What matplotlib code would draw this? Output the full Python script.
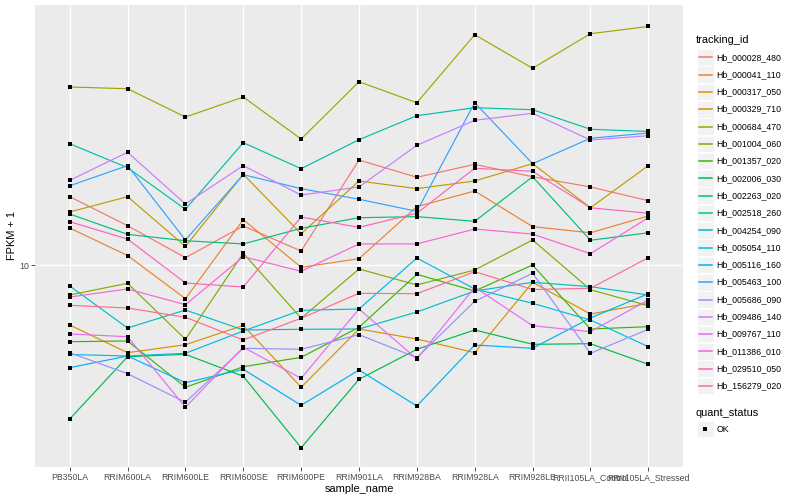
import matplotlib
matplotlib.use("Agg")
import matplotlib.pyplot as plt
from matplotlib.patches import Rectangle
from matplotlib.lines import Line2D
from matplotlib.ticker import NullLocator, FixedLocator

plt.rcParams['font.family'] = ['Liberation Sans', 'DejaVu Sans']

samples = ["PB350LA", "RRIM600LA", "RRIM600LE", "RRIM600SE", "RRIM600PE",
           "RRIM901LA", "RRIM928BA", "RRIM928LA", "RRIM928LE",
           "RRII105LA_Control", "RRII105LA_Stressed"]

tracking_ids = ["Hb_000028_480", "Hb_000041_110", "Hb_000317_050", "Hb_000329_710",
                "Hb_000684_470", "Hb_001004_060", "Hb_001357_020", "Hb_002006_030",
                "Hb_002263_020", "Hb_002518_260", "Hb_004254_090", "Hb_005054_110",
                "Hb_005116_160", "Hb_005463_100", "Hb_005686_090", "Hb_009486_140",
                "Hb_009767_110", "Hb_011386_010", "Hb_029510_050", "Hb_156279_020"]

hb_000028_480 = [14.82, 12.54, 10.43, 12.52, 10.84, 18.30, 16.57, 17.85, 16.62, 15.67, 14.48]
hb_000041_110 = [12.37, 10.56, 8.236, 12.98, 9.869, 10.37, 13.99, 15.31, 12.47, 12.04, 13.26]
hb_000317_050 = [7.080, 6.036, 6.320, 7.062, 4.946, 6.918, 6.531, 6.036, 9.052, 7.542, 8.021]
hb_000329_710 = [13.57, 14.82, 11.13, 16.86, 11.97, 16.22, 15.52, 16.22, 17.92, 13.90, 17.72]
hb_000684_470 = [27.86, 27.59, 23.44, 26.30, 20.65, 28.72, 25.45, 37.65, 31.03, 37.87, 39.47]
hb_001004_060 = [8.414, 9.000, 6.520, 10.70, 7.358, 9.772, 8.913, 9.716, 11.55, 8.675, 7.911]
hb_001357_020 = [6.431, 6.457, 4.946, 5.568, 5.878, 6.987, 9.478, 8.610, 10.00, 6.918, 7.011]
hb_002006_030 = [4.121, 5.899, 5.980, 5.269, 3.493, 5.179, 6.155, 6.879, 6.335, 6.357, 5.646]
hb_002263_020 = [13.41, 11.93, 11.50, 11.29, 12.35, 13.13, 13.21, 12.86, 16.62, 11.53, 12.04]
hb_002518_260 = [20.10, 17.51, 13.78, 20.22, 17.41, 20.57, 23.62, 24.73, 24.45, 21.84, 21.57]
hb_004254_090 = [8.862, 6.958, 7.718, 6.879, 6.907, 6.918, 7.630, 8.610, 9.052, 8.826, 8.414]
hb_005054_110 = [5.974, 5.923, 6.015, 6.839, 7.705, 7.763, 10.41, 8.710, 8.021, 7.286, 6.248]
hb_005116_160 = [5.537, 5.923, 5.079, 5.486, 4.459, 5.464, 4.441, 6.310, 6.191, 7.371, 8.477]
hb_005463_100 = [15.78, 17.72, 11.55, 16.82, 15.52, 14.60, 13.62, 25.45, 17.92, 20.74, 21.38]
hb_005686_090 = [6.036, 5.349, 4.537, 6.191, 6.155, 6.695, 5.865, 8.114, 9.534, 6.015, 6.907]
hb_009486_140 = [16.28, 19.13, 14.21, 17.72, 14.96, 15.67, 19.92, 23.00, 23.95, 20.54, 21.05]
hb_009767_110 = [6.722, 6.618, 4.408, 6.227, 5.209, 7.763, 5.821, 8.796, 7.051, 6.812, 8.175]
hb_011386_010 = [8.317, 8.710, 7.957, 10.49, 9.644, 11.29, 11.29, 12.30, 11.95, 10.67, 13.13]
hb_029510_050 = [12.83, 11.61, 9.016, 8.811, 13.18, 12.42, 13.47, 17.45, 17.15, 13.90, 13.47]
hb_156279_020 = [7.930, 7.807, 7.400, 6.494, 7.358, 8.497, 8.477, 9.622, 8.684, 8.745, 10.43]

series = [hb_000028_480, hb_000041_110, hb_000317_050, hb_000329_710, hb_000684_470,
          hb_001004_060, hb_001357_020, hb_002006_030, hb_002263_020, hb_002518_260,
          hb_004254_090, hb_005054_110, hb_005116_160, hb_005463_100, hb_005686_090,
          hb_009486_140, hb_009767_110, hb_011386_010, hb_029510_050, hb_156279_020]

colors = ["#F8766D", "#EA8331", "#D89000", "#C09B00", "#A3A500", "#7CAE00", "#39B600",
          "#00BB4E", "#00BF7D", "#00C1A3", "#00BFC4", "#00BAE0", "#00B0F6", "#35A2FF",
          "#9590FF", "#C77CFF", "#E76BF3", "#FA62DB", "#FF62BC", "#FF6C91"]

W, H = 800, 500
fig = plt.figure(figsize=(8, 5), dpi=100)
fig.patch.set_facecolor("white")

def fx(px):
    return px / W

def fy(py):
    return 1 - py / H

ax = fig.add_axes([fx(35), fy(467), (683 - 35) / W, (467 - 5) / H])
ax.set_facecolor("#EBEBEB")
ax.set_yscale("log")
ax.set_ylim(3.126, 44.67)
ax.set_xlim(-0.6, len(samples) - 0.4)

xs = list(range(len(samples)))
for vals, col in zip(series, colors):
    ax.plot(xs, vals, color=col, lw=0.85, zorder=3, solid_capstyle='butt')
for vals in series:
    ax.plot(xs, vals, ls='none', marker='s', ms=2.6, color='black', mew=0, zorder=4)

ax.xaxis.set_major_locator(FixedLocator(xs))
ax.set_xticklabels(samples)
ax.yaxis.set_major_locator(FixedLocator([10]))
ax.yaxis.set_minor_locator(NullLocator())
ax.set_yticklabels(["10"])
ax.grid(True, which='major', color='white', lw=1.0)
ax.set_axisbelow(True)
for s in ax.spines.values():
    s.set_visible(False)
ax.tick_params(axis='both', length=2.7, width=0.6, color='#333333',
               labelsize=6.3, labelcolor='#4D4D4D', pad=1.8)

ax.set_xlabel("sample_name", fontsize=7.9, color='black')
ax.xaxis.set_label_coords(0.5, (467 - 488.5) / 462)
ax.xaxis.label.set_va('center')
ax.set_ylabel("FPKM + 1", fontsize=7.9, color='black')
ax.yaxis.set_label_coords((12 - 35) / 648, 0.5)
ax.yaxis.label.set_va('center')

# legend: tracking_id
fig.text(fx(696), fy(40), "tracking_id", fontsize=7.9, va='center', ha='left')
for i, (name, col) in enumerate(zip(tracking_ids, colors)):
    yc = 57.3 + 17.3 * i
    fig.patches.append(Rectangle((fx(697), fy(yc + 8.3)), 16.5 / W, 16.6 / H,
                                 transform=fig.transFigure, facecolor='#F2F2F2',
                                 edgecolor='white', lw=0.6))
    fig.lines.append(Line2D([fx(698.5), fx(712)], [fy(yc), fy(yc)],
                            transform=fig.transFigure, color=col, lw=1.1))
    fig.text(fx(716.7), fy(yc), name, fontsize=6.3, va='center', ha='left')

# legend: quant_status
fig.text(fx(696), fy(412.5), "quant_status", fontsize=7.9, va='center', ha='left')
fig.patches.append(Rectangle((fx(697), fy(429 + 8.3)), 16.5 / W, 16.6 / H,
                             transform=fig.transFigure, facecolor='#F2F2F2',
                             edgecolor='white', lw=0.6))
fig.lines.append(Line2D([fx(705.2)], [fy(429)], transform=fig.transFigure,
                        ls='none', marker='s', ms=2.6, color='black', mew=0))
fig.text(fx(716.7), fy(429), "OK", fontsize=6.3, va='center', ha='left')

fig.savefig("out.png", dpi=100)
